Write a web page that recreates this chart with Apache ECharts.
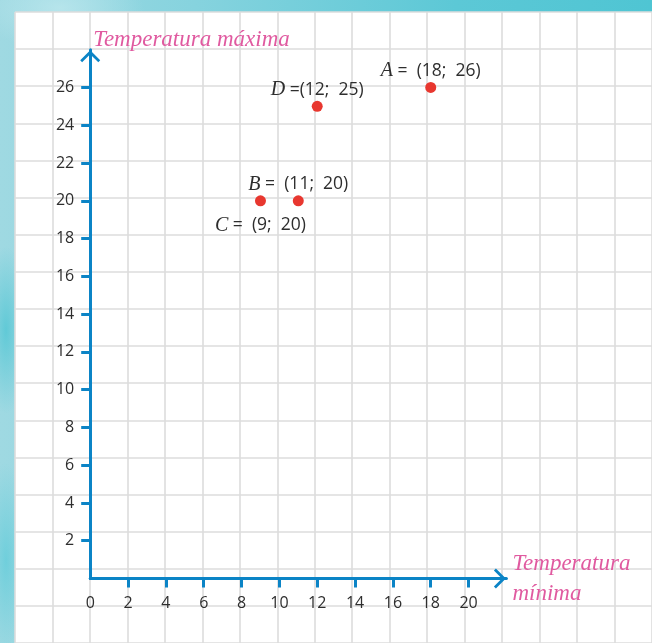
<!DOCTYPE html>
<html>
<head>
<meta charset="utf-8">
<script src="https://cdn.jsdelivr.net/npm/echarts@6/dist/echarts.min.js"></script>
<style>
html,body{margin:0;padding:0;}
#wrap{width:652px;height:643px;position:relative;
background:
 radial-gradient(ellipse 120px 60px at 60px 8px, rgba(190,232,238,0.8), rgba(190,232,238,0) 70%),
 radial-gradient(ellipse 30px 120px at 6px 330px, rgba(70,195,210,0.7), rgba(70,195,210,0) 70%),
 radial-gradient(ellipse 30px 140px at 6px 560px, rgba(80,200,215,0.6), rgba(80,200,215,0) 70%),
 linear-gradient(90deg, #9fd9e2 0%, #86d3de 30%, #5cc8d6 70%, #4fc5d3 100%);}
#chart{width:652px;height:643px;position:absolute;left:0;top:0;}
</style>
</head>
<body>
<div id="wrap"><div id="chart"></div></div>
<script>
// ---- data ----
const pointNames = ['A', 'B', 'C', 'D'];
const minTemps = [18, 11, 9, 12];   // x: Temperatura mínima
const maxTemps = [26, 20, 20, 25];  // y: Temperatura máxima
const labelSides = ['top', 'top', 'bottom', 'top'];
const xTickValues = [2, 4, 6, 8, 10, 12, 14, 16, 18, 20];
const xLabelValues = [0, 2, 4, 6, 8, 10, 12, 14, 16, 18, 20];
const yTickValues = [2, 4, 6, 8, 10, 12, 14, 16, 18, 20, 22, 24, 26];
const xName = 'Temperatura\nmínima';
const yName = 'Temperatura máxima';

const BLUE = '#0b84c6';
const PINK = '#e05aa0';
const GRIDC = '#dcdcdc';
const TXT = '#2e2e2e';
const chevron = 'path://M0,10.5 L10.5,0 L21,10.5 L19,12.6 L10.5,4.2 L2,12.6 Z';

const pointData = pointNames.map((n, i) => ({
  value: [minTemps[i], maxTemps[i]],
  name: n,
  label: {
    position: labelSides[i],
    distance: labelSides[i] === 'top' ? 1 : 9,
    formatter: () => '{i|' + n + '}{s| ' + (n === 'D' ? '=' : '=  ') + '(' + minTemps[i] + ';  ' + maxTemps[i] + ')}'
  }
}));

const chart = echarts.init(document.getElementById('chart'), null, {renderer: 'canvas'});
chart.setOption({
  backgroundColor: 'transparent',
  animation: false,
  grid: [
    {left: 15, top: 12, right: -5.6, bottom: -11.1, show: true, backgroundColor: '#ffffff', borderWidth: 0, containLabel: false},
    {left: 90.2, top: 49.7, right: 145.6, bottom: 64.5, containLabel: false}
  ],
  xAxis: [
    {gridIndex: 0, type: 'value', min: -4, max: 30, interval: 2,
     axisLine: {show: false}, axisTick: {show: false}, axisLabel: {show: false},
     splitLine: {show: true, lineStyle: {color: GRIDC, width: 1.6}}},
    {gridIndex: 1, type: 'value', min: 0, max: 22, interval: 2,
     position: 'bottom',
     axisLine: {show: true, onZero: false, symbol: ['none', chevron], symbolSize: [20, 13], symbolOffset: [0, -6.5],
       lineStyle: {color: BLUE, width: 3}},
     axisTick: {show: true, inside: false, length: 9, lineStyle: {color: BLUE, width: 3}, customValues: xTickValues},
     axisLabel: {show: true, margin: 17, color: TXT, fontFamily: 'Open Sans', fontSize: 16, customValues: xLabelValues},
     splitLine: {show: false},
     name: xName, nameLocation: 'end', nameGap: 0,
     nameTextStyle: {color: PINK, fontFamily: 'Liberation Serif', fontStyle: 'italic', fontSize: 23,
       lineHeight: 30, align: 'left', verticalAlign: 'middle', padding: [0, 0, 49, 6]}}
  ],
  yAxis: [
    {gridIndex: 0, type: 'value', min: -4, max: 30, interval: 2,
     axisLine: {show: false}, axisTick: {show: false}, axisLabel: {show: false},
     splitLine: {show: true, lineStyle: {color: GRIDC, width: 1.6}}},
    {gridIndex: 1, type: 'value', min: 0, max: 28, interval: 2,
     position: 'left',
     axisLine: {show: true, onZero: false, symbol: ['none', chevron], symbolSize: [20, 13], symbolOffset: [0, -6.5],
       lineStyle: {color: BLUE, width: 3}},
     axisTick: {show: true, inside: false, length: 9, lineStyle: {color: BLUE, width: 3}, customValues: yTickValues},
     axisLabel: {show: true, margin: 16, color: TXT, fontFamily: 'Open Sans', fontSize: 16, customValues: yTickValues},
     splitLine: {show: false},
     name: yName, nameLocation: 'end', nameGap: -2,
     nameTextStyle: {color: PINK, fontFamily: 'Liberation Serif', fontStyle: 'italic', fontSize: 23,
       align: 'left', verticalAlign: 'bottom', padding: [0, 0, 0, 3]}}
  ],
  series: [{
    type: 'scatter',
    xAxisIndex: 1, yAxisIndex: 1,
    symbol: 'circle', symbolSize: 11,
    itemStyle: {color: '#e8372f', opacity: 1},
    label: {show: true, color: TXT,
      rich: {
        i: {fontFamily: 'Liberation Serif', fontStyle: 'italic', fontSize: 20, color: TXT},
        s: {fontFamily: 'Open Sans', fontSize: 17.5, color: TXT}
      }},
    data: pointData,
    z: 10
  }]
});
</script>
</body>
</html>
